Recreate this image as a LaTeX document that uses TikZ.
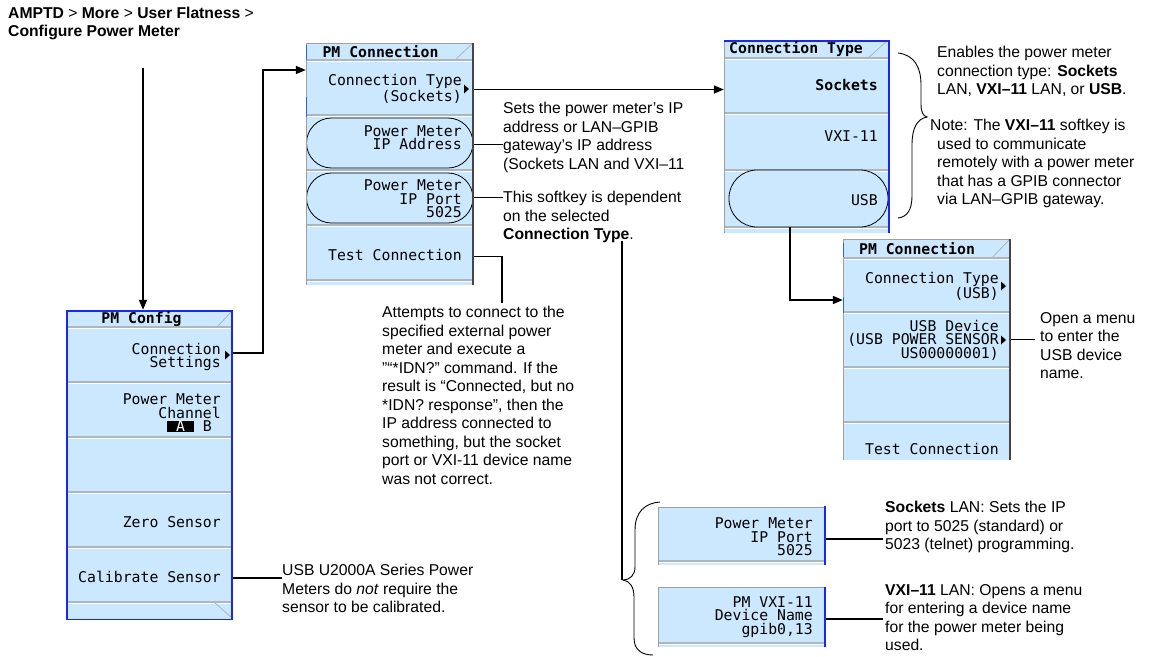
\documentclass[tikz,border=0pt]{standalone}
\usepackage{fontspec}
\setmainfont{Liberation Sans}
\newfontfamily\keyfont{DejaVu Sans Mono}
\usetikzlibrary{arrows.meta}
\definecolor{keyblue}{RGB}{204,232,255}
\definecolor{sepgray}{RGB}{170,182,192}
\definecolor{selblue}{RGB}{25,40,235}
\definecolor{edgegray}{RGB}{160,160,160}
\definecolor{darkedge}{RGB}{70,70,70}
\definecolor{markblue}{RGB}{40,100,235}
\tikzset{
  txt/.style={font=\fontsize{15.7}{18.5}\selectfont, align=left, anchor=north west, inner sep=0pt},
  keybox/.style={rectangle, fill=keyblue, draw=none, inner sep=0pt},
  keytxt/.style={font=\keyfont\fontsize{14.8}{13.5}\selectfont, align=right, anchor=east, inner sep=0pt},
  headtxt/.style={font=\keyfont\bfseries\fontsize{14.8}{14}\selectfont, inner sep=0pt},
  oval/.style={draw=black, line width=0.8pt, fill=keyblue, rounded corners=#1},
  sep/.style={sepgray, line width=1.6pt},
  hil/.style={white, line width=1pt},
  conn/.style={black, line width=1.3pt},
  arr/.style={black, line width=1.6pt, -{Triangle[length=10pt,width=8pt]}},
  bracel/.style={black, line width=0.9pt},
  edgeline/.style={edgegray, line width=1pt},
}
\newcommand\mysep[3]{\draw[sep] (#2,#1) -- (#3,#1); \draw[hil] (#2,#1+1.6) -- (#3,#1+1.6);}
\newcommand\softtri[2]{\fill[black] (#1-3,#2-4.5) -- (#1+2,#2) -- (#1-3,#2+4.5) -- cycle;}
\begin{document}
\begin{tikzpicture}[x=1pt,y=-1pt]
\useasboundingbox (0,0) rectangle (1151,656);

% ---------- header text
\node[txt, font=\fontsize{15.7}{17.5}\selectfont] (hdr) at (8,7)
  {\textbf{AMPTD} > \textbf{More} > \textbf{User Flatness} >\\\textbf{Configure Power Meter}};
\coordinate (hdrOut) at (143,68);

% ---------- PM Config menu
\fill[keyblue] (66,310) rectangle (233,620);
\node[keybox, minimum width=167, minimum height=17] (cfgHead) at (149.5,318.5) {};
\node[keybox, minimum width=167, minimum height=55] (cfgConn) at (149.5,354.5) {};
\node[keybox, minimum width=167, minimum height=55] (cfgChan) at (149.5,409.5) {};
\node[keybox, minimum width=167, minimum height=55] (cfgBlank) at (149.5,464.5) {};
\node[keybox, minimum width=167, minimum height=55] (cfgZero) at (149.5,519.5) {};
\node[keybox, minimum width=167, minimum height=55] (cfgCal) at (149.5,574.5) {};
\mysep{327}{66}{233}\mysep{382}{66}{233}\mysep{437}{66}{233}
\mysep{492}{66}{233}\mysep{547}{66}{233}\mysep{602}{66}{233}
\draw[sepgray, line width=0.8pt] (217,327) -- (232,311);
\draw[sepgray, line width=0.8pt] (215,603) -- (232,618);
\draw[selblue, line width=1.5pt] (66.75,620) -- (66.75,310.75) -- (232,310.75);
\draw[selblue, line width=1.2pt] (66,619.4) -- (233,619.4);
\draw[selblue, line width=2.5pt] (231.75,310) -- (231.75,620);
\node[headtxt] (cfgHeadT) at (141.5,319) {PM Config};
\node[keytxt] (cfgConnT) at (221,357) {Connection\\Settings};
\node[keytxt] (cfgChanT) at (221,413) {Power Meter\\Channel\\{\setlength{\fboxsep}{0pt}\colorbox{black}{\textcolor{white}{~A~}}}~B\phantom{B}};
\node[keytxt] (cfgZeroT) at (221,522) {Zero Sensor};
\node[keytxt] (cfgCalT) at (221,577) {Calibrate Sensor};
\softtri{228}{355}

% ---------- PM Connection (sockets)
\fill[keyblue] (306,43) rectangle (474,285);
\node[keybox, minimum width=168, minimum height=17] (pcHead) at (390,51.5) {};
\node[keybox, minimum width=168, minimum height=55] (pcType) at (390,87.5) {};
\node[keybox, minimum width=168, minimum height=55] (pcAddr) at (390,142.5) {};
\node[keybox, minimum width=168, minimum height=55] (pcPort) at (390,197.5) {};
\node[keybox, minimum width=168, minimum height=55] (pcTest) at (390,252.5) {};
\mysep{60}{306}{474}\mysep{115}{306}{474}\mysep{170}{306}{474}
\mysep{225}{306}{474}\mysep{280}{306}{474}
\draw[sepgray, line width=0.8pt] (455,60) -- (472,44);
\draw[oval=25] (306.5,118) rectangle (473,168);
\draw[oval=25] (306.5,173) rectangle (473,223);
\draw[edgeline] (306,285) -- (306,43.5) -- (474,43.5);
\draw[darkedge, line width=2pt] (473,43) -- (473,285);
\draw[markblue, line width=1.6pt] (306.5,45) -- (306.5,60) (306.5,97) -- (306.5,117);
\node[headtxt] (pcHeadT) at (380.5,52) {PM Connection};
\node[keytxt] (pcTypeT) at (462,89) {Connection Type\\(Sockets)};
\node[keytxt] (pcAddrT) at (462,137.5) {Power Meter\\IP Address};
\node[keytxt] (pcPortT) at (462,199) {Power Meter\\IP Port\\5025};
\node[keytxt] (pcTestT) at (462,255) {Test Connection};
\softtri{467}{89}

% ---------- Connection Type menu
\fill[keyblue] (724,40) rectangle (890,233);
\node[keybox, minimum width=166, minimum height=18] (ctHead) at (807,49) {};
\node[keybox, minimum width=166, minimum height=55] (ctSock) at (807,85.5) {};
\node[keybox, minimum width=166, minimum height=57] (ctVxi) at (807,141.5) {};
\node[keybox, minimum width=166, minimum height=57] (ctUsb) at (807,198.5) {};
\mysep{58}{724}{890}\mysep{113}{724}{890}\mysep{170}{724}{890}\mysep{227}{724}{890}
\draw[sepgray, line width=0.8pt] (868,58) -- (887,41);
\draw[oval=28] (729,170) rectangle (888,227);
\draw[edgeline] (724,233) -- (724,40.5);
\draw[selblue, line width=1.5pt] (724,40.75) -- (890,40.75);
\draw[selblue, line width=2.5pt] (888.75,40) -- (888.75,233);
\node[headtxt] (ctHeadT) at (796,49.5) {Connection Type};
\node[keytxt, font=\keyfont\bfseries\fontsize{14.8}{13.5}\selectfont] (ctSockT) at (878,85) {Sockets};
\node[keytxt] (ctVxiT) at (878,136) {VXI-11};
\node[keytxt] (ctUsbT) at (878,200) {USB};

% ---------- PM Connection (USB)
\fill[keyblue] (843,239) rectangle (1011,460);
\node[keybox, minimum width=168, minimum height=19] (uHead) at (927,248.5) {};
\node[keybox, minimum width=168, minimum height=54] (uType) at (927,285) {};
\node[keybox, minimum width=168, minimum height=55] (uDev) at (927,339.5) {};
\node[keybox, minimum width=168, minimum height=55] (uBlank) at (927,394.5) {};
\node[keybox, minimum width=168, minimum height=38] (uTest) at (927,441) {};
\mysep{258}{843}{1011}\mysep{312}{843}{1011}\mysep{367}{843}{1011}\mysep{422}{843}{1011}
\draw[sepgray, line width=0.8pt] (992,258) -- (1009,240);
\draw[edgeline] (843,460) -- (843,239.5) -- (1011,239.5);
\draw[darkedge, line width=2pt] (1010,239) -- (1010,460);
\draw[markblue, line width=1.6pt] (843.5,243) -- (843.5,257) (843.5,297) -- (843.5,313);
\node[headtxt] (uHeadT) at (917,249) {PM Connection};
\node[keytxt] (uTypeT) at (999,286.5) {Connection Type\\(USB)};
\node[keytxt] (uDevT) at (999,340) {USB Device\\(USB POWER SENSOR\\US00000001)};
\node[keytxt] (uTestT) at (999,449) {Test Connection};
\softtri{1004}{286}
\softtri{1004}{340}

% ---------- extra softkeys (bottom)
\node[keybox, minimum width=168, minimum height=58] (bPort) at (742,536) {};
\node[keybox, minimum width=168, minimum height=60] (bVxi) at (742,617) {};
\draw[edgegray, line width=0.8pt] (658,507.4) -- (826,507.4) (658,587.4) -- (826,587.4);
\mysep{561}{658}{826}\mysep{643}{658}{826}
\draw[edgeline] (658.5,507) -- (658.5,565) (658.5,587) -- (658.5,647);
\draw[selblue, line width=2.5pt] (824.75,506) -- (824.75,565) (824.75,587) -- (824.75,647);
\node[keytxt] (bPortT) at (813,537) {Power Meter\\IP Port\\5025};
\node[keytxt] (bVxiT) at (813,617) {PM VXI-11\\Device Name\\gpib0,13};

% ---------- description texts
\node[txt] (ipTxt) at (503,102) {Sets the power meter’s IP\\address or LAN–GPIB\\gateway’s IP address\\(Sockets LAN and VXI–11};
\node[txt] (portTxt) at (503,191) {This softkey is dependent\\on the selected\\\textbf{Connection Type}.};
\node[txt] (testTxt) at (382,306) {Attempts to connect to the\\specified external power\\meter and execute a\\"“*IDN?” command. If the\\result is “Connected, but no\\*IDN? response”, then the\\IP address connected to\\something, but the socket\\port or VXI-11 device name\\was not correct.};
\node[txt] (calTxt) at (282,564) {USB U2000A Series Power\\Meters do \textit{not} require the\\sensor to be calibrated.};
\node[txt] (enTxt) at (937,46) {Enables the power meter\\connection type: \textbf{Sockets}\\LAN, \textbf{VXI–11} LAN, or \textbf{USB}.};
\node[txt] (noteTxt) at (937,119) {\hspace*{-7pt}Note: The \textbf{VXI–11} softkey is\\used to communicate\\remotely with a power meter\\that has a GPIB connector\\via LAN–GPIB gateway.};
\node[txt] (usbTxt) at (1040,312) {Open a menu\\to enter the\\USB device\\name.};
\node[txt] (sockTxt) at (885,501) {\textbf{Sockets} LAN: Sets the IP\\port to 5025 (standard) or\\5023 (telnet) programming.};
\node[txt] (vxiTxt) at (885,584) {\textbf{VXI–11} LAN: Opens a menu\\for entering a device name\\for the power meter being\\used.};

% ---------- braces
\draw[bracel] (898,53) .. controls (915,55) and (921,68) .. (921,85) -- (921,104)
  .. controls (921,112) and (923,116) .. (927,117)
  .. controls (917,119) and (912,128) .. (912,145) -- (912,196)
  .. controls (912,210) and (907,217) .. (898,218);
\draw[bracel] (660,502) .. controls (645,503) and (635,512) .. (635,530) -- (635,567)
  .. controls (635,575) and (630,580) .. (623,580)
  .. controls (630,581) and (634,587) .. (634,597) -- (634,638)
  .. controls (634,650) and (642,655) .. (653,655);
\coordinate (typeEnd) at (622,241);
\coordinate (braceTip) at (622,580);
\coordinate (testDrop) at (502,303);
\coordinate (pcJog) at (263,70);
\coordinate (usbOut) at (790,227);

% ---------- connectors
\draw[arr] (hdrOut) -- (hdrOut |- cfgHead.north);
\draw[arr] ([yshift=1.5pt]cfgConn.east) -| (pcJog) -- ([yshift=17.5pt]pcType.west);
\draw[arr] ([yshift=-2pt]pcType.east) -- ([yshift=-2pt]pcType.east -| ctSock.west);
\draw[arr] (usbOut) |- ([yshift=-15pt]uType.west);
\draw[conn] ([yshift=-2pt]pcAddr.east) -- ([yshift=-2pt]pcAddr.east -| ipTxt.west);
\draw[conn] (pcPort.east) -- (pcPort.east -| portTxt.west);
\draw[conn] ([yshift=-4pt]pcTest.east) -| (testDrop);
\draw[conn] (typeEnd) -- (braceTip);
\draw[conn] (uDev.east) -- ([xshift=-5pt]uDev.east -| usbTxt.west);
\draw[conn] ([yshift=-3pt]bPort.east) -- ([yshift=-3pt,xshift=-2pt]bPort.east -| sockTxt.west);
\draw[conn] ([yshift=-2pt]bVxi.east) -- ([yshift=-2pt,xshift=-2pt]bVxi.east -| vxiTxt.west);
\draw[conn] ([yshift=-3.5pt]cfgCal.east) -- ([yshift=-3.5pt]cfgCal.east -| calTxt.west);
\end{tikzpicture}
\end{document}
